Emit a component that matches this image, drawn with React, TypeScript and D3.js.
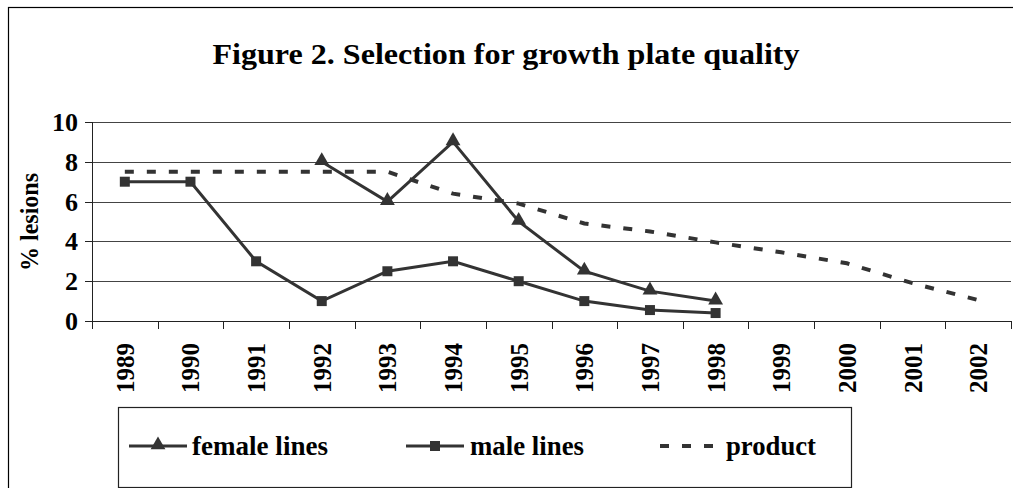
import React from "react";
import * as d3 from "d3";

const years = ["1989","1990","1991","1992","1993","1994","1995","1996","1997","1998","1999","2000","2001","2002"];
const femaleLines: (number | null)[] = [null, null, null, 8, 6, 9, 5, 2.5, 1.5, 1.0, null, null, null, null];
const maleLines: (number | null)[] = [7, 7, 3, 1, 2.5, 3, 2, 1, 0.55, 0.4, null, null, null, null];
const product: (number | null)[] = [7.5, 7.5, 7.5, 7.5, 7.5, 6.4, 5.9, 4.9, 4.5, 3.95, 3.45, 2.9, 1.9, 1.05];
const yTicks = [0, 2, 4, 6, 8, 10];
const title = "Figure 2. Selection for growth plate quality";
const yLabel = "% lesions";
const legendItems = ["female lines", "male lines", "product"];

const W = 1013, H = 488;
const left = 92, right = 1011, top = 122, bottom = 321;
const ink = "#333";
const font = "'Liberation Serif', Tinos, 'Times New Roman', 'DejaVu Serif', serif";
const txt = { fontFamily: font, fontStretch: "condensed" as const };

export default function App() {
  const x = d3.scaleBand<string>().domain(years).range([left, right]);
  const y = d3.scaleLinear().domain([0, 10]).range([bottom, top]);
  const cx = (i: number) => (x(years[i]) as number) + x.bandwidth() / 2;

  const line = d3.line<[number, number | null]>()
    .defined(d => d[1] !== null)
    .x(d => cx(d[0]))
    .y(d => y(d[1] as number));

  const toPts = (arr: (number | null)[]) => arr.map((v, i) => [i, v] as [number, number | null]);
  const tri = d3.symbol().type(d3.symbolTriangle).size(95)();
  const sq = d3.symbol().type(d3.symbolSquare).size(100)();

  return (
    <svg width={W} height={H} style={{ position: "absolute", left: 0, top: 0, background: "#fff" }}>
      <rect x={8.5} y={7.5} width={1010} height={490} fill="#fff" stroke="#000" strokeWidth={1.2} />
      <text x={506} y={64} textAnchor="middle" fontWeight="bold" fontSize={30}
        textLength={587} lengthAdjust="spacingAndGlyphs" style={txt}>{title}</text>

      {yTicks.map(t => (
        <g key={t}>
          <line x1={left} x2={right} y1={Math.round(y(t)) + 0.5} y2={Math.round(y(t)) + 0.5}
            stroke={t === 0 ? "#222" : "#444"} strokeWidth={1} />
          <line x1={85} x2={left} y1={Math.round(y(t)) + 0.5} y2={Math.round(y(t)) + 0.5} stroke="#222" />
          <text x={78} y={y(t) + 9} textAnchor="end" fontWeight="bold" fontSize={26}
            style={txt}>{t}</text>
        </g>
      ))}
      <line x1={left + 0.5} x2={left + 0.5} y1={top} y2={bottom} stroke="#222" />
      {d3.range(years.length + 1).map(k => {
        const xx = Math.round(left + k * x.bandwidth()) + 0.5;
        return <line key={k} x1={xx} x2={xx} y1={bottom} y2={bottom + 8} stroke="#222" />;
      })}
      {years.map((yr, i) => (
        <text key={yr} transform={`translate(${cx(i) + 9},${393}) rotate(-90)`} textAnchor="start"
          fontWeight="bold" fontSize={25} textLength={50} lengthAdjust="spacingAndGlyphs" style={txt}>{yr}</text>
      ))}
      <text transform={`translate(38,222) rotate(-90)`} textAnchor="middle"
        fontWeight="bold" fontSize={26} textLength={98} lengthAdjust="spacingAndGlyphs" style={txt}>{yLabel}</text>

      <path d={line(toPts(product)) || ""} fill="none" stroke={ink} strokeWidth={4} strokeDasharray="9,13" />
      <path d={line(toPts(maleLines)) || ""} fill="none" stroke={ink} strokeWidth={3} />
      <path d={line(toPts(femaleLines)) || ""} fill="none" stroke={ink} strokeWidth={3} />
      {maleLines.map((v, i) => v === null ? null :
        <path key={"m" + i} d={sq || ""} transform={`translate(${cx(i)},${y(v)})`} fill={ink} />)}
      {femaleLines.map((v, i) => v === null ? null :
        <path key={"f" + i} d={tri || ""} transform={`translate(${cx(i)},${y(v) - 1})`} fill={ink} />)}

      <rect x={118.5} y={407.5} width={733} height={80} fill="#fff" stroke="#222" strokeWidth={1.2} />
      <line x1={129} x2={187} y1={446} y2={446} stroke={ink} strokeWidth={3} />
      <path d={tri || ""} transform="translate(158,445)" fill={ink} />
      <text x={192} y={455} fontWeight="bold" fontSize={28} textLength={136}
        lengthAdjust="spacingAndGlyphs" style={txt}>{legendItems[0]}</text>
      <line x1={406} x2={464} y1={446} y2={446} stroke={ink} strokeWidth={3} />
      <path d={sq || ""} transform="translate(435,446)" fill={ink} />
      <text x={470} y={455} fontWeight="bold" fontSize={28} textLength={114}
        lengthAdjust="spacingAndGlyphs" style={txt}>{legendItems[1]}</text>
      <line x1={660} x2={718} y1={446} y2={446} stroke={ink} strokeWidth={4} strokeDasharray="9,13" />
      <text x={726} y={455} fontWeight="bold" fontSize={28} textLength={90}
        lengthAdjust="spacingAndGlyphs" style={txt}>{legendItems[2]}</text>
    </svg>
  );
}
